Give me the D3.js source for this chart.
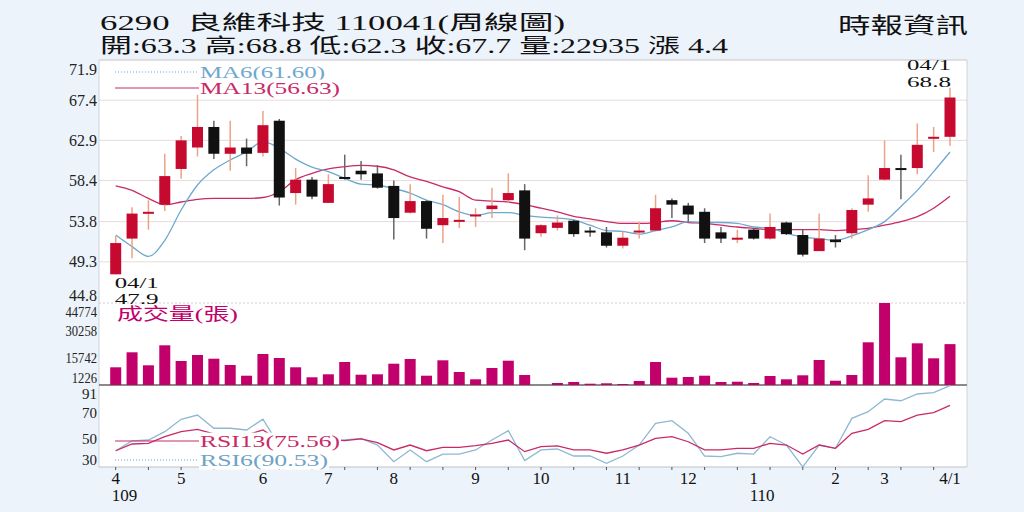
<!DOCTYPE html>
<html>
<head>
<meta charset="utf-8">
<script src="https://cdn.jsdelivr.net/npm/d3@7"></script>
<style>
  body { margin: 0; background: #ecf3fb; }
  svg { display: block; }
</style>
</head>
<body>
<div id="chart"></div>
<script>
// weekly candles, 6290 良維科技, 109/04 - 110/04
const weeks = ["2020-03-30","2020-04-06","2020-04-13","2020-04-20","2020-04-27","2020-05-04","2020-05-11","2020-05-18","2020-05-25",
  "2020-06-01","2020-06-08","2020-06-15","2020-06-22","2020-06-29","2020-07-06","2020-07-13","2020-07-20","2020-07-27",
  "2020-08-03","2020-08-10","2020-08-17","2020-08-24","2020-08-31","2020-09-07","2020-09-14","2020-09-21","2020-09-28",
  "2020-10-05","2020-10-12","2020-10-19","2020-10-26","2020-11-02","2020-11-09","2020-11-16","2020-11-23","2020-11-30",
  "2020-12-07","2020-12-14","2020-12-21","2020-12-28","2021-01-04","2021-01-11","2021-01-18","2021-01-25","2021-02-01",
  "2021-02-15","2021-02-22","2021-03-01","2021-03-08","2021-03-15","2021-03-22","2021-03-29"];

const opens  = [47.9,51.9,54.7,55.7,59.7,62.1,64.4,61.4,62.1,61.5,65.1,57.0,58.5,55.9,58.8,59.5,59.2,57.8,54.8,56.1,
  53.4,53.9,54.5,55.2,56.2,57.3,52.5,53.1,53.9,52.8,52.6,51.1,52.7,52.8,56.2,55.6,54.9,52.6,51.9,52.9,
  51.9,53.7,52.3,50.5,51.8,52.5,55.7,58.5,59.8,59.8,63.1,63.3];
const highs  = [52.2,55.4,56.2,61.4,63.4,68.0,65.1,65.1,63.1,66.2,65.3,59.8,58.8,59.1,61.3,60.6,60.1,58.4,58.0,56.2,
  56.8,56.6,55.3,57.6,59.2,58.0,53.5,54.5,54.0,53.2,53.2,52.7,53.8,56.8,56.4,55.9,55.3,53.2,52.9,53.0,
  54.7,53.8,52.9,54.7,52.3,55.3,59.0,62.9,61.3,64.8,64.4,68.8];
const lows   = [47.9,49.7,52.9,55.0,58.6,61.1,60.8,59.5,60.0,61.1,55.6,55.7,56.3,55.9,58.5,58.5,57.5,51.8,54.7,51.9,
  51.4,53.1,53.2,54.2,55.9,50.6,52.1,52.8,52.1,52.1,50.9,50.8,51.9,52.7,54.2,53.8,51.4,51.4,51.4,51.8,
  51.8,52.3,49.9,50.5,50.9,51.9,54.9,58.4,56.3,59.1,61.6,62.3];
const closes = [51.4,54.7,54.9,58.9,62.9,64.4,61.4,62.1,61.4,64.6,56.5,58.5,56.6,58.0,58.7,59.1,57.6,54.2,56.1,53.0,
  54.2,54.0,54.6,55.6,57.0,51.9,53.4,53.7,52.4,52.7,51.1,52.0,52.8,55.3,55.7,54.6,51.9,51.9,52.0,51.9,
  53.2,52.4,50.1,51.9,51.5,55.1,56.4,59.8,59.7,62.4,63.3,67.7];

const volumes = [10625,18590,11687,22307,13970,17156,15191,11846,6164,17687,15563,10625,5315,6908,13439,6695,6908,
  12536,15032,6164,14342,8129,4253,10253,14129,6536,1226,2288,2819,1916,2129,1757,3350,13439,5102,5474,6164,
  2819,2978,2288,6005,4253,6377,14501,3509,6536,23900,44774,15934,23368,15404,22935];

const ma6  = [52.3,51.0,49.9,51.7,55.1,57.9,59.6,60.7,61.6,62.75,62.0,60.8,59.9,59.4,58.65,58.0,57.9,57.5,57.0,56.2,
  55.7,54.9,54.5,54.8,54.8,54.5,54.3,54.2,54.0,53.4,52.8,52.7,52.4,52.8,53.2,53.8,53.7,53.7,53.6,53.2,
  53.05,52.5,52.05,51.9,51.7,52.2,52.9,53.8,55.5,57.3,59.4,61.6];
const ma13 = [57.8,57.3,56.4,55.7,56.0,56.3,56.4,56.4,56.4,56.5,57.15,58.5,59.2,59.7,59.95,60.1,60.0,59.6,58.8,58.3,
  57.7,57.15,56.2,56.1,56.0,55.7,55.3,54.9,54.4,54.1,53.8,53.6,53.6,53.7,53.9,53.7,53.6,53.4,53.2,53.05,
  52.9,52.9,52.9,52.9,52.8,52.9,53.05,53.4,53.8,54.35,55.3,56.63];

const rsi6  = [41.3,48.7,49.4,55.7,65.1,68.3,58.3,58.3,57.0,65.1,45,50,46,48,49.4,50.7,45.6,33.0,41.9,33.0,
  38.8,38.8,41.9,49.4,56.4,33.8,41.9,42.6,37.3,37.3,31.8,37.3,45.6,62.0,64.0,54.5,37.3,36.8,39.4,38.8,
  51.9,45.6,29.0,45.6,43.1,65.8,70.8,80.4,79.1,84.2,85.2,90.53];
const rsi13 = [41.3,46.4,46.9,51.9,55.7,57.5,54.0,53.2,53.2,57.0,49,51,49,50,48.9,50.2,47.4,41.9,45.6,41.3,
  43.9,43.9,45.1,46.9,49.4,40.6,44.4,44.9,41.9,41.9,39.4,41.9,45.6,50.7,51.9,48.1,41.9,41.9,43.1,43.1,
  46.9,45.6,38.8,45.6,43.1,54.5,57.5,64.0,63.3,68.3,70.1,75.56];

const priceTicks = [44.8, 49.3, 53.8, 58.4, 62.9, 67.4, 71.9];
const volumeTicks = [1226, 15742, 30258, 44774];
const rsiTicks = [30, 50, 70, 91];
const monthTicks = [
  {week: "2020-03-30", label: "4", year: "109"},
  {week: "2020-04-27", label: "5"},
  {week: "2020-06-01", label: "6"},
  {week: "2020-06-29", label: "7"},
  {week: "2020-07-27", label: "8"},
  {week: "2020-08-31", label: "9"},
  {week: "2020-09-28", label: "10"},
  {week: "2020-11-02", label: "11"},
  {week: "2020-11-30", label: "12"},
  {week: "2020-12-28", label: "1", year: "110"},
  {week: "2021-02-01", label: "2"},
  {week: "2021-03-01", label: "3"},
  {week: "2021-03-29", label: "4/1"}
];

const width = 1024;
const height = 512;
const left = 99, right = 967;
const price = {top: 60, bottom: 302};
const vol = {top: 303, bottom: 385};
const rsi = {top: 385, bottom: 467};

const serif = "'Liberation Serif', 'Noto Sans CJK TC', serif";
const upColor = "#c5092f", upWick = "#eba386";
const downColor = "#111", downWick = "#666";
const maBlue = "#6fa8cf", maRed = "#c92a67";
const volColor = "#c2006b";

const x = d3.scalePoint().domain(weeks).range([115.7, 950]);
const yPrice = d3.scaleLinear().domain([44.8, 71.9]).range([price.bottom, price.top]);
const yVol = d3.scaleLinear().domain([1226, 44774]).range([vol.bottom, vol.top]);
const yRsi = d3.scaleLinear().domain([29, 91]).range([rsi.bottom, rsi.top]);

const candles = weeks.map((w, i) => ({week: w, o: opens[i], h: highs[i], l: lows[i], c: closes[i], v: volumes[i]}));

const svg = d3.select("#chart")
  .append("svg")
    .attr("viewBox", [0, 0, width, height])
    .attr("width", width)
    .attr("height", height);

svg.append("rect").attr("width", width).attr("height", height).attr("fill", "#ecf3fb");
svg.append("rect")
    .attr("x", left).attr("y", price.top)
    .attr("width", right - left).attr("height", rsi.bottom - price.top)
    .attr("fill", "#fff");

// price gridlines
svg.append("g")
    .attr("stroke", "#e7dcdc")
  .selectAll("line")
  .data(priceTicks.slice(1))
  .join("line")
    .attr("x1", left).attr("x2", right)
    .attr("y1", d => yPrice(d)).attr("y2", d => yPrice(d));

svg.append("line")
    .attr("x1", left).attr("x2", right)
    .attr("y1", vol.top).attr("y2", vol.top)
    .attr("stroke", "#dcc9cf").attr("stroke-dasharray", "2,2");

// frame
svg.append("path")
    .attr("d", `M${left},${rsi.bottom}V${price.top}H${right}V${rsi.bottom}`)
    .attr("fill", "none").attr("stroke", "#cfd3d8");
svg.append("line")
    .attr("x1", left).attr("x2", right)
    .attr("y1", vol.bottom).attr("y2", vol.bottom)
    .attr("stroke", "#8a8a8a").attr("stroke-width", 2);
svg.append("line")
    .attr("x1", left).attr("x2", right)
    .attr("y1", rsi.bottom).attr("y2", rsi.bottom)
    .attr("stroke", "#bfc4ca");

// volume bars
svg.append("g")
    .attr("fill", volColor)
  .selectAll("rect")
  .data(candles)
  .join("rect")
    .attr("x", d => x(d.week) - 5.5)
    .attr("width", 11)
    .attr("y", d => yVol(d.v))
    .attr("height", d => Math.max(0, vol.bottom - yVol(d.v)));

// moving averages
const priceLine = d3.line().x((d, i) => x(weeks[i])).y(d => yPrice(d)).curve(d3.curveMonotoneX);
svg.append("path").attr("d", priceLine(ma13)).attr("fill", "none").attr("stroke", maRed).attr("stroke-width", 1.3);
svg.append("path").attr("d", priceLine(ma6)).attr("fill", "none").attr("stroke", maBlue).attr("stroke-width", 1.3);

// candles
const candle = svg.append("g")
  .selectAll("g")
  .data(candles)
  .join("g");

candle.append("line")
    .attr("x1", d => x(d.week)).attr("x2", d => x(d.week))
    .attr("y1", d => yPrice(d.h)).attr("y2", d => yPrice(d.l))
    .attr("stroke", d => d.c >= d.o ? upWick : downWick)
    .attr("stroke-width", 1.5);

candle.append("rect")
    .attr("x", d => x(d.week) - 5.5)
    .attr("width", 11)
    .attr("y", d => yPrice(Math.max(d.o, d.c)))
    .attr("height", d => Math.max(2, Math.abs(yPrice(d.o) - yPrice(d.c))))
    .attr("fill", d => d.c >= d.o ? upColor : downColor);

// RSI
const rsiLine = d3.line().x((d, i) => x(weeks[i])).y(d => yRsi(d));
svg.append("path").attr("d", rsiLine(rsi6)).attr("fill", "none").attr("stroke", "#8fb8d3").attr("stroke-width", 1.3);
svg.append("path").attr("d", rsiLine(rsi13)).attr("fill", "none").attr("stroke", maRed).attr("stroke-width", 1.3);

// axis labels, pulled inside each panel at the edges
const inside = (y, p) => Math.max(p.top + 9, Math.min(p.bottom - 7, y));

svg.append("g")
    .style("font", `16px ${serif}`)
    .attr("fill", "#222")
    .attr("text-anchor", "end")
  .selectAll("text")
  .data(priceTicks)
  .join("text")
    .attr("x", 97)
    .attr("y", d => inside(yPrice(d), price))
    .attr("dy", "0.35em")
    .text(d => d.toFixed(1));

svg.append("g")
    .style("font", `15px ${serif}`)
    .attr("fill", "#222")
    .attr("text-anchor", "end")
  .selectAll("text")
  .data(volumeTicks)
  .join("text")
    .attr("x", 97)
    .attr("y", d => inside(yVol(d), vol))
    .attr("dy", "0.35em")
    .attr("textLength", d => String(d).length * 6.3)
    .attr("lengthAdjust", "spacingAndGlyphs")
    .text(d => d);

svg.append("g")
    .style("font", `15px ${serif}`)
    .attr("fill", "#222")
    .attr("text-anchor", "end")
  .selectAll("text")
  .data(rsiTicks)
  .join("text")
    .attr("x", 97)
    .attr("y", d => inside(yRsi(d), rsi))
    .attr("dy", "0.35em")
    .text(d => d);

// x axis
svg.append("g")
    .attr("stroke", "#555")
  .selectAll("line")
  .data(weeks.filter((w, i) => i % 2 === 0))
  .join("line")
    .attr("x1", d => x(d)).attr("x2", d => x(d))
    .attr("y1", rsi.bottom).attr("y2", rsi.bottom + 3);

const month = svg.append("g")
    .style("font", `17px ${serif}`)
    .attr("fill", "#111")
  .selectAll("g")
  .data(monthTicks)
  .join("g");

month.append("text")
    .attr("x", d => x(d.week))
    .attr("y", 484)
    .attr("text-anchor", "middle")
    .text(d => d.label);

month.filter(d => d.year).append("text")
    .attr("x", d => x(d.week) - 4)
    .attr("y", 501)
    .text(d => d.year);

// legends
function legend(y, color, text, dashed, len) {
  svg.append("line")
      .attr("x1", 115).attr("x2", 199)
      .attr("y1", y).attr("y2", y)
      .attr("stroke", color).attr("stroke-width", 1)
      .attr("stroke-dasharray", dashed ? "1,2" : null);
  const t = svg.append("text")
      .attr("x", 200).attr("y", y)
      .attr("dy", "0.35em")
      .attr("fill", color)
      .style("font", `16px ${serif}`)
      .attr("textLength", len)
      .attr("lengthAdjust", "spacingAndGlyphs")
      .text(text);
  const b = t.node().getBBox();
  svg.insert("rect", () => t.node())
      .attr("x", b.x - 1).attr("y", b.y)
      .attr("width", b.width + 2).attr("height", b.height)
      .attr("fill", "#fff");
}

legend(72, maBlue, `MA6(${ma6[ma6.length - 1].toFixed(2)})`, true, 125);
legend(88, maRed, `MA13(${ma13[ma13.length - 1].toFixed(2)})`, false, 140);
legend(441, maRed, `RSI13(${rsi13[rsi13.length - 1].toFixed(2)})`, false, 140);
legend(460, "#6fa3c6", `RSI6(${rsi6[rsi6.length - 1].toFixed(2)})`, true, 128);

svg.append("text")
    .attr("x", 117).attr("y", 314)
    .attr("dy", "0.35em")
    .attr("fill", volColor)
    .style("font", `17px ${serif}`)
    .attr("textLength", 121)
    .attr("lengthAdjust", "spacingAndGlyphs")
    .text("成交量(張)");

// high / low marks
const lowIdx = d3.minIndex(lows);
const highIdx = d3.maxIndex(highs);
const mark = (i, anchor, y1, y2, v) => {
  const g = svg.append("g")
      .style("font", `14px ${serif}`)
      .attr("fill", "#111")
      .attr("text-anchor", anchor);
  const xx = anchor === "start" ? x(weeks[i]) - 1 : x(weeks[i]) + 1;
  g.append("text").attr("x", xx).attr("y", y1).attr("textLength", 44).attr("lengthAdjust", "spacingAndGlyphs").text("04/1");
  g.append("text").attr("x", xx).attr("y", y2).attr("textLength", 44).attr("lengthAdjust", "spacingAndGlyphs").text(v.toFixed(1));
};
mark(lowIdx, "start", 288, 304, lows[lowIdx]);
mark(highIdx, "end", 70, 87, highs[highIdx]);

// header
const last = candles[candles.length - 1];
const prevClose = closes[closes.length - 2];
svg.append("text")
    .attr("x", 100).attr("y", 30)
    .attr("fill", "#111")
    .style("font", `20px ${serif}`)
    .attr("textLength", 465)
    .attr("lengthAdjust", "spacingAndGlyphs")
    .text("6290\u00a0\u00a0良維科技 110041(周線圖)");

svg.append("text")
    .attr("x", 100).attr("y", 53)
    .attr("fill", "#111")
    .style("font", `20px ${serif}`)
    .attr("textLength", 628)
    .attr("lengthAdjust", "spacingAndGlyphs")
    .text(`開:${last.o} 高:${last.h} 低:${last.l} 收:${last.c} 量:${last.v} 漲 ${(last.c - prevClose).toFixed(1)}`);

svg.append("text")
    .attr("x", 968).attr("y", 33)
    .attr("text-anchor", "end")
    .attr("fill", "#111")
    .style("font", `22px ${serif}`)
    .attr("textLength", 130)
    .attr("lengthAdjust", "spacingAndGlyphs")
    .text("時報資訊");
</script>
</body>
</html>
